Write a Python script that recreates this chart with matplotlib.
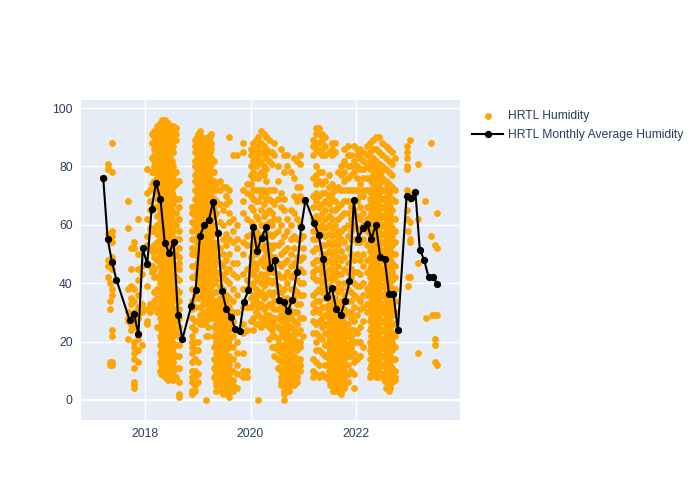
import matplotlib
matplotlib.use("Agg")
import matplotlib.pyplot as plt

# Monthly averages: month label -> value
avg_months = ["2017-03","2017-04","2017-05","2017-06","2017-09","2017-10","2017-11","2017-12",
 "2018-01","2018-02","2018-03","2018-04","2018-05","2018-06","2018-07","2018-08","2018-09",
 "2018-11","2018-12","2019-01","2019-02","2019-03","2019-04","2019-05","2019-06","2019-07",
 "2019-08","2019-09","2019-10","2019-11","2019-12","2020-01","2020-02","2020-03","2020-04",
 "2020-05","2020-06","2020-07","2020-08","2020-09","2020-10","2020-11","2020-12","2021-01",
 "2021-03","2021-04","2021-05","2021-06","2021-07","2021-08","2021-09","2021-10","2021-11",
 "2021-12","2022-01","2022-02","2022-03","2022-04","2022-05","2022-06","2022-07","2022-08",
 "2022-09","2022-10","2022-12","2023-01","2023-02","2023-03","2023-04","2023-05","2023-06","2023-07"]
avg_values = [76.0,55.3,47.1,41.2,27.4,29.6,22.5,51.9,46.5,65.4,74.4,68.8,53.8,50.3,54.2,29.1,20.9,
 32.1,37.6,56.3,60.0,61.5,67.9,57.1,37.4,31.1,28.5,24.4,23.7,33.7,37.6,59.2,51.0,55.6,59.1,45.1,47.9,
 34.2,33.4,30.5,34.2,43.7,59.1,68.5,60.5,56.5,48.3,35.4,38.5,31.1,29.1,33.9,40.6,68.4,55.3,58.8,60.4,
 55.3,60.0,49.0,48.4,36.3,36.3,24.0,70.0,69.1,71.1,51.5,47.9,42.0,42.0,39.8]

# Individual humidity readings, grouped by the decimal year of the column they sit in
hum_2017 = {
 2017.22:[76],2017.29:[81,79,57,55,48,46,42],2017.33:[40,34,31,13,12],
 2017.37:[88,78,58,56,54,49,47,45,38,36,24,22,13,12],
 2017.68:[68,59,38,30,28,27,21],2017.74:[52,45,39,35,33,29,26,24],
 2017.8:[54,52,38,34,30,27,25,20,18,16,14,11,6,5,4],2017.86:[62,50,45,41,36,32,28,23,21,17,13],
 2017.95:[46,43,33,31,30,19],
}
hum_2018 = {
 2018.03:[79,71,62,56,53,47,39,31,26,27],2018.09:[68,59,52,46,33,30,72,65],
 2018.13:[91,88,83,78,74,65,58,51,46,44,32,32],
 2018.18:[92,90,88,86,84,82,80,78,75,72,66,59,53,49,45,42,37,34],
 2018.23:[94,92,90,88,86,84,82,80,78,76,74,71,69,66,63,60,57,54,51,48,42,38,35,32,30,25],
 2018.28:[95,93,91,89,87,85,83,81,79,76,73,70,67,64,61,58,55,52,49,46,43,40,37,34,31,28,25,22,19,16,13,10],
 2018.33:[96,94,92,90,88,86,84,82,80,77,74,71,68,65,62,59,56,53,50,47,44,41,38,35,32,29,26,23,20,17,14,11,9],
 2018.38:[96,93,91,88,85,83,81,78,75,73,70,67,64,61,58,55,52,49,46,43,41,38,35,32,29,26,24,21,18,15,12,9,8],
 2018.43:[95,92,90,88,85,82,80,77,74,71,68,66,63,60,57,54,51,48,45,42,39,36,33,30,27,24,21,18,15,12,9,7],
 2018.48:[94,91,88,86,83,80,78,75,72,69,66,63,60,58,55,52,49,46,43,40,37,34,31,28,25,22,19,16,13,10,8],
 2018.53:[94,92,90,87,85,80,76,73,70,67,64,61,58,55,52,49,46,43,40,37,34,31,28,25,22,19,16,13,10,7],
 2018.58:[93,91,89,78,74,69,64,60,55,50,46,42,38,35,31,27,23,19,15,11,8],
 2018.65:[75,69,66,62,58,55,52,49,47,45,41,37,34,31,28,25,22,19,15,11,6,2,1],
 2018.9:[66,64,61,58,55,52,50,46,42,38,34,31,28,25,22,20,18,16,13,10,8,6,3,2],
 2018.95:[89,87,85,82,80,77,75,72,69,66,63,60,55,50,46,42,36,32,27,24,20,17,14,10,8,5,3],
 2019.0:[91,88,86,84,82,79,77,75,72,70,68,65,62,59,56,53,49,45,41,38,35,27,20,17,13,9,6],
 2019.05:[92,90,87,85,82,80,78,76,73,71,68,66,64,61,58,56,53,50,47,44,41,38,35,32,29,26],
 2019.1:[89,87,85,83,80,78,76,74,71,69,66,64,61,59,56,53,50,47,44,41,38,36,33,30,28,26],
 2019.15:[88,86,84,81,79,77,75,72,70,67,65,62,60,57,54,51,48,45,42,39,36,33,30,27,22,0],
 2019.2:[90,87,85,83,80,78,75,73,70,68,65,63,60,57,55,52,49,46,43,40,37,34,31,28,25,22],
 2019.25:[91,88,86,83,81,78,75,72,70,67,64,62,59,56,53,50,47,45,42,39,36,33,30,28],
 2019.3:[82,78,75,72,69,66,63,60,57,54,51,48,46,43,40,37,34,31,28,25,22,18,14,11,8],
 2019.35:[74,72,68,64,58,53,49,44,41,37,34,32,30,28,26,24,22,20,18,16,14,12,10,8,6,5,3],
 2019.42:[75,72,67,61,52,47,43,39,35,33,31,29,27,25,23,21,19,17,15,13,11,9,7,5],
 2019.48:[73,65,60,55,50,46,42,38,34,32,30,28,26,24,22,20,18,16,14,12,10,8,6,4,2],
 2019.54:[73,70,67,57,53,48,44,41,36,33,31,29,27,25,23,21,19,17,15,13,11,9,7,5,3],
 2019.6:[90,72,68,64,61,55,50,45,40,35,32,29,26,24,21,18,15,12,9,6,4,1],
 2019.66:[84,62,58,54,47,43,38,34,30,27,25,22,18,14,10,7,5,3],
 2019.75:[84,60,55,52,47,42,36,30,24,20,16,12,9,4],
 2019.85:[88,85,72,68,64,54,50,43,38,32,26,23,16,10,8],
 2019.93:[74,71,62,56,53,45,41,38,32,24,10,8],
}
hum_2020 = {
 2020.0:[86,84,80,77,74,70,66,61,57,53,49,46,43,39,35,32,27],
 2020.05:[88,85,82,78,76,72,69,65,60,56,51,47,44,40,36,33,28,24],
 2020.1:[89,86,83,80,77,72,68,63,58,54,50,45,42,38,34,30,26],
 2020.15:[90,87,84,81,76,72,68,62,57,55,52,47,41,36,32,29,26,0],
 2020.2:[92,88,85,82,78,72,70,65,60,55,52,48,43,40,37,33,28,25],
 2020.25:[91,87,84,80,77,72,67,63,60,57,53,49,46,42,39,35,31,27],
 2020.3:[90,86,83,79,75,71,69,64,60,56,51,47,43,40,36,32,29,26],
 2020.35:[89,85,82,72,69,65,61,57,53,50,45,41,37,33,29,27,25,21],
 2020.4:[85,81,72,68,64,60,56,52,48,44,40,36,32,28,26,24,22,18],
 2020.45:[88,84,72,67,62,57,53,49,44,41,37,34,31,28,26,22,18,15],
 2020.52:[80,75,69,62,58,53,47,43,39,34,31,28,25,21,19,17,14,11],
 2020.58:[86,71,66,60,54,50,46,42,37,33,29,27,24,22,19,16,13,10,8,6,5],
 2020.64:[84,78,69,65,56,51,47,42,38,35,31,28,25,22,19,17,14,11,8,5,3,2,0],
 2020.7:[84,80,62,58,52,48,44,40,35,32,29,26,23,20,17,14,12,9,6,4,3],
 2020.76:[78,65,60,55,50,46,42,38,34,30,28,25,22,20,17,14,11,9,7,5],
 2020.82:[83,76,70,64,56,52,47,43,38,35,30,27,24,21,18,15,12,10,7,5],
 2020.88:[82,73,68,62,55,49,45,41,37,33,30,26,23,20,17,14,11,8,6],
 2020.94:[84,81,73,70,60,55,48,45,40,36,33,28,24,20,18,14,12,10],
 2021.0:[68,56,52,49,44,40,36,28,22],
}
hum_2021 = {
 2021.18:[89,87,84,76,70,66,62,58,55,51,47,44,42,36,33,30,27,23,14,10,8],
 2021.24:[93,91,88,86,80,77,74,71,68,63,60,58,55,52,48,45,41,37,34,31,26,23,20,17,13,9],
 2021.3:[93,91,88,85,78,75,70,66,62,59,56,52,48,45,41,38,34,30,27,22,17,12,8],
 2021.36:[91,89,86,84,78,74,71,67,64,60,57,53,50,46,43,40,37,32,28,25,21,16,9],
 2021.42:[90,87,84,75,71,68,65,62,59,56,53,50,47,44,41,38,35,32,29,26,23,19,15,12,8],
 2021.48:[85,77,73,70,67,63,60,57,54,51,48,45,42,39,36,33,30,28,25,22,20,18,16,14,12,10,7],
 2021.54:[88,86,84,74,71,69,65,62,59,56,53,50,47,44,41,38,35,32,29,27,25,23,21,19,17,15,13,10,8,6,5],
 2021.6:[88,85,72,68,65,60,57,54,51,48,45,42,38,35,31,29,27,24,22,20,18,16,14,12,10,8,6,4,3],
 2021.66:[78,73,66,62,58,56,53,49,46,43,40,37,33,30,28,26,24,22,20,18,16,14,12,10,8,6,4,3],
 2021.72:[80,77,72,67,63,58,55,51,48,43,38,34,32,30,28,26,24,21,19,17,15,13,11,9,7,5,3,2],
 2021.78:[86,82,78,75,72,68,64,59,54,49,45,40,36,31,29,26,24,22,20,18,16,14,12,10,8,5,4],
 2021.84:[87,84,80,76,72,68,64,60,56,52,47,44,38,34,30,26,24,22,19,17,15,12,9,6],
 2021.9:[84,80,77,72,66,62,58,55,50,45,42,37,34,30,28,24,22,20,18,15,10],
 2021.96:[87,82,78,72,68,65,60,55,48,44,40,36,32,27,24,20,16,13,9,4],
 2022.02:[86,84,80,76,72,68,63,59,54,50,44,39,35,29,23,20,14],
 2022.08:[86,83,79,74,70,66,62,58,54,48,43,39,34,31,25,20,15],
 2022.14:[85,82,79,76,72,70,64,60,55,50,46,40,36,32,27,18],
 2022.2:[87,84,80,76,72,66,62,58,53,48,44,38,36,33,30],
 2022.26:[88,85,82,79,76,72,69,66,63,60,57,54,51,48,45,42,39,36,33,30,27,24,20,17,14,11,8],
 2022.32:[89,86,83,80,77,74,71,68,65,62,59,56,53,50,47,44,41,38,35,32,29,26,23,20,17,14,11,9],
 2022.38:[90,86,82,79,76,73,70,67,64,61,58,55,52,49,46,43,40,37,34,31,28,25,22,19,16,13,10,8],
 2022.44:[90,85,81,77,74,71,68,65,62,59,56,53,50,47,44,41,38,35,32,29,26,23,20,17,14,11,9],
 2022.5:[88,84,80,76,72,69,66,63,60,57,54,51,48,45,42,39,36,33,30,27,24,21,18,15,12,9],
 2022.56:[87,83,79,75,72,68,65,62,59,56,53,50,47,44,41,38,35,32,29,26,23,20,17,14,11,8,6,4],
 2022.62:[86,82,78,74,71,67,64,61,58,55,52,49,46,43,40,37,34,31,28,25,22,19,16,13,10,8,5,3],
 2022.68:[85,81,77,73,69,65,62,59,56,53,50,47,44,41,38,35,32,29,26,23,20,17,14,11,9,6],
 2022.74:[83,72,68,62,58,54,50,46,42,38,34,30,26,22,18,14,10,8,7],
 2022.96:[87,85,83,80,79,72,65,62],2022.99:[39,58,42,71],
 2023.03:[89,69,61,55,54,42],2023.18:[81,62,47,16],2023.3:[68],2023.33:[28],
 2023.42:[88,56],2023.44:[29],2023.5:[53,29,21,19,13],2023.53:[64,52,29,12],
}
# Readings that fill the densest parts of each seasonal band
hum_dense = {
 2018.3:[94,90,86,82,78,74,69,66,63,60,57,54,51,47,44,41,38,34,31,27,24,21,18,15,12,9],
 2018.36:[95,91,87,84,80,76,72,69,65,62,59,56,53,50,46,43,39,36,33,30,28,25,22,19,16,13,10],
 2018.41:[94,89,86,83,79,76,72,69,65,62,59,56,53,50,47,44,40,37,34,31,28,25,22,19,16,13,10,8],
 2018.46:[93,89,86,82,79,76,73,70,67,64,61,58,56,53,50,47,44,41,38,35,32,29,26,23,20,17,14,11,9],
 2018.51:[93,89,85,82,78,74,71,68,65,62,59,56,53,50,47,44,41,38,35,32,29,26,23,20,17,14,11,8],
 2018.98:[90,86,83,81,78,74,71,67,64,61,58,54,51,47,44],
 2019.03:[91,89,86,83,81,77,74,71,69,66,63,60,57,54,51,48,45,42,39],
 2019.08:[90,88,86,84,81,79,77,74,72,69,67,65,62,60,57,54,51,48,45,42,39,36],
 2019.13:[87,85,82,80,77,75,73,70,68,65,63,60,58,55,52,49,46,43,40,37,34],
 2019.18:[89,86,84,82,79,76,74,71,69,66,64,61,58,56,53,50,47,44,41,38,35],
 2019.23:[90,87,85,82,79,76,73,71,68,65,63,60,57,54,51,48,46,43,40,37,34],
 2019.45:[33,31,29,27,25,23,21,19,17,15,13,11,9,7,5,3],
 2019.51:[34,32,30,28,26,24,22,20,18,16,14,12,10,8,6,4],
 2019.57:[35,32,30,27,25,22,20,18,15,13,11,8,6,4,2],
 2020.67:[33,30,27,24,21,18,15,13,10,7,5,3],
 2020.73:[34,31,28,25,22,19,16,13,10,8,5,3],
 2021.51:[32,29,27,24,21,19,17,15,13,11,9,7,5],
 2021.57:[33,30,28,26,24,22,20,18,16,14,12,9,7,5,3],
 2021.63:[30,28,26,24,22,20,18,16,14,12,10,8,6,4],
 2021.69:[32,29,27,25,23,21,19,17,15,13,11,9,7,5,3],
 2021.75:[30,27,25,23,21,19,17,15,13,11,9,7,5],
 2022.29:[75,71,67,64,61,58,55,52,49,46,43,40,37,34,31,28,25,22,19,16,12,9],
 2022.35:[78,75,72,69,66,63,60,57,54,51,48,45,42,39,36,33,30,27,24,21,18,15,12,9],
 2022.41:[77,74,71,68,65,62,59,56,53,50,47,44,41,38,35,32,29,26,23,20,17,14,11,8],
 2022.47:[78,75,72,69,66,63,60,57,54,51,48,45,42,39,36,33,30,27,24,21,18,15,12,9],
 2022.53:[75,72,69,66,63,60,57,54,51,48,45,42,39,36,33,30,27,24,21,18,15,12,9,7],
 2022.59:[73,70,67,64,61,58,55,52,49,46,43,40,37,34,31,28,25,22,19,16,13,10,7,4],
 2022.65:[72,69,66,63,60,57,54,51,48,45,42,39,36,33,30,27,24,21,18,15,12,9,7,4],
}

BLUE = "#2a3f5f"
plt.rcParams["font.family"] = ["Liberation Sans", "DejaVu Sans"]
fig = plt.figure(figsize=(7, 5), dpi=100)
ax = fig.add_axes([81/700, 80/500, 379/700, 320/500], facecolor="#E5ECF6")

xs, ys = [], []
for group in (hum_2017, hum_2018, hum_2020, hum_2021, hum_dense):
    for yr, vals in group.items():
        xs += [yr] * len(vals)
        ys += vals
pts = ax.scatter(xs, ys, s=24, color="orange", linewidths=0, zorder=3, label="HRTL Humidity")

avg_x = [int(m[:4]) + (int(m[5:]) - 0.5) / 12 for m in avg_months]
ln, = ax.plot(avg_x, avg_values, color="black", lw=1.5, marker="o", ms=4.2, zorder=4,
              label="HRTL Monthly Average Humidity")

ax.set_xlim(2016.787, 2023.97)
ax.set_ylim(-6.85, 102.75)
ax.set_xticks([2018, 2020, 2022])
ax.set_xticklabels(["2018", "2020", "2022"])
ax.set_yticks([0, 20, 40, 60, 80, 100])
ax.grid(color="white", lw=1, zorder=1)
ax.set_axisbelow(True)
ax.axhline(0, color="white", lw=1.5, zorder=2)
for s in ax.spines.values():
    s.set_visible(False)
ax.tick_params(length=0, labelsize=8.7, labelcolor=BLUE, pad=6)

leg = fig.legend(handles=[pts, ln], loc="upper left", bbox_to_anchor=(472/700, 1 - 110/500),
                 frameon=False, fontsize=8.7, labelcolor=BLUE, handlelength=2.6, handletextpad=0.35,
                 labelspacing=0.62, borderaxespad=0, borderpad=0, scatterpoints=1)
fig.savefig("out.png", dpi=100)
